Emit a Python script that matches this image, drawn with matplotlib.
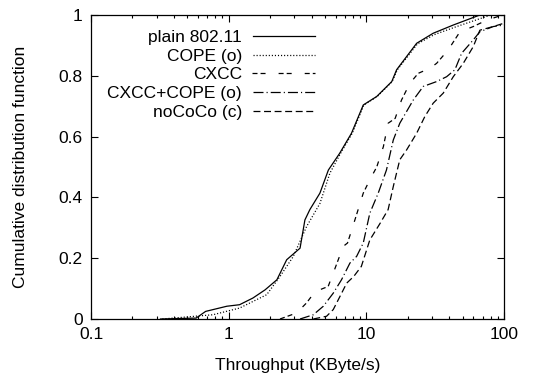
import matplotlib
matplotlib.use("Agg")
import matplotlib.pyplot as plt
import numpy as np

plt.rcParams['font.family'] = ['Liberation Sans', 'DejaVu Sans']
plt.rcParams['lines.scale_dashes'] = False

# Throughput (KByte/s) and CDF values
plain_x = [0.32, 0.58, 0.68, 0.97, 1.2, 1.5, 1.84, 2.24, 2.64, 3.3, 3.58, 3.89, 4.6, 5.3, 6.4, 7.8, 9.5, 11.9, 15.3, 16.6, 23.2, 30.6, 42.8, 66.8, 100]
plain_y = [0.0, 0.003, 0.025, 0.042, 0.047, 0.069, 0.096, 0.129, 0.195, 0.233, 0.326, 0.36, 0.414, 0.49, 0.545, 0.611, 0.704, 0.732, 0.781, 0.82, 0.907, 0.94, 0.967, 1.0, 1.0]

cope_x = [0.33, 0.77, 1.2, 1.89, 2.36, 2.95, 3.68, 4.6, 5.44, 6.5, 7.9, 9.6, 12.0, 15.4, 16.8, 23.5, 31.0, 44.0, 80.0, 100]
cope_y = [0.0, 0.014, 0.036, 0.08, 0.14, 0.206, 0.304, 0.38, 0.48, 0.545, 0.611, 0.704, 0.732, 0.781, 0.82, 0.905, 0.935, 0.96, 1.0, 1.0]

cxcc_x = [2.36, 3.12, 3.68, 4.24, 5.28, 5.75, 6.8, 7.3, 8.26, 9.5, 10.6, 11.9, 13.3, 14.4, 16.2, 18.0, 20.7, 23.8, 29.0, 32.4, 39.3, 47.9, 59.8, 74.7, 98.0, 100]
cxcc_y = [0.0, 0.02, 0.053, 0.09, 0.107, 0.151, 0.239, 0.25, 0.326, 0.414, 0.458, 0.5, 0.567, 0.644, 0.66, 0.72, 0.775, 0.808, 0.825, 0.841, 0.885, 0.945, 0.962, 0.983, 1.0, 1.0]

cxcope_x = [3.3, 4.12, 4.87, 5.75, 6.6, 7.6, 8.5, 9.5, 10.6, 12.2, 14.0, 15.7, 17.5, 21.9, 25.9, 32.4, 38.3, 44.0, 49.2, 59.8, 66.8, 83.5, 100]
cxcope_y = [0.0, 0.014, 0.042, 0.085, 0.129, 0.184, 0.206, 0.25, 0.348, 0.414, 0.49, 0.589, 0.644, 0.72, 0.765, 0.781, 0.797, 0.82, 0.874, 0.918, 0.945, 0.962, 0.967]

nococo_x = [4.12, 5.14, 5.75, 6.43, 7.2, 8.1, 9.2, 10.6, 12.6, 14.4, 15.7, 17.5, 19.6, 23.2, 26.6, 30.6, 36.2, 42.8, 50.6, 59.8, 66.8, 83.5, 100]
nococo_y = [0.0, 0.009, 0.031, 0.074, 0.118, 0.14, 0.173, 0.26, 0.315, 0.36, 0.436, 0.524, 0.556, 0.611, 0.666, 0.71, 0.743, 0.797, 0.841, 0.896, 0.95, 0.962, 0.973]

labels = ["plain 802.11", "COPE (o)", "CXCC", "CXCC+COPE (o)", "noCoCo (c)"]
x_ticks = [0.1, 1, 10, 100]
x_ticklabels = ["0.1", "1", "10", "100"]
y_ticks = [0, 0.2, 0.4, 0.6, 0.8, 1]
y_ticklabels = ["0", "0.2", "0.4", "0.6", "0.8", "1"]

FS = 12.5
fig = plt.figure(figsize=(5.34, 3.74), dpi=100)
ax = fig.add_axes([91/534, 1-319/374, 413/534, 304/374])

lw = 0.9
series = [(plain_x, plain_y, '-'),
          (cope_x, cope_y, (0, (0.8, 1.4))),
          (cxcc_x, cxcc_y, (0, (3.6, 2.2, 3.6, 9.4))),
          (cxcope_x, cxcope_y, (0, (7.2, 2.2, 0.8, 2.2))),
          (nococo_x, nococo_y, (0, (5.0, 2.6)))]
for (xs, ys, ls), lab in zip(series, labels):
    ax.plot(xs, ys, color='black', linestyle=ls, linewidth=lw, label=lab)

ax.set_xscale('log')
ax.set_xlim(0.1, 100)
ax.set_ylim(0, 1)
ax.set_xticks(x_ticks)
ax.set_xticklabels(x_ticklabels)
ax.set_yticks(y_ticks)
ax.set_yticklabels(y_ticklabels)
ax.tick_params(which='both', direction='in', top=True, right=True, labelsize=FS, width=0.8)
ax.tick_params(which='major', length=5, pad=6)
ax.tick_params(which='minor', length=2.5)
ax.tick_params(axis='y', which='minor', left=False, right=False)
for s in ax.spines.values():
    s.set_linewidth(0.9)

ax.set_xlabel("Throughput (KByte/s)", fontsize=FS, labelpad=11)
ax.set_ylabel("Cumulative distribution function", fontsize=FS, labelpad=22)

leg = ax.legend(loc='upper right', bbox_to_anchor=((315-91)/413, (319-30)/304),
                frameon=False, markerfirst=False, fontsize=FS,
                handlelength=3.6, handletextpad=0.6, labelspacing=0.2,
                borderpad=0, borderaxespad=0)

fig.savefig("out.png", dpi=100)
